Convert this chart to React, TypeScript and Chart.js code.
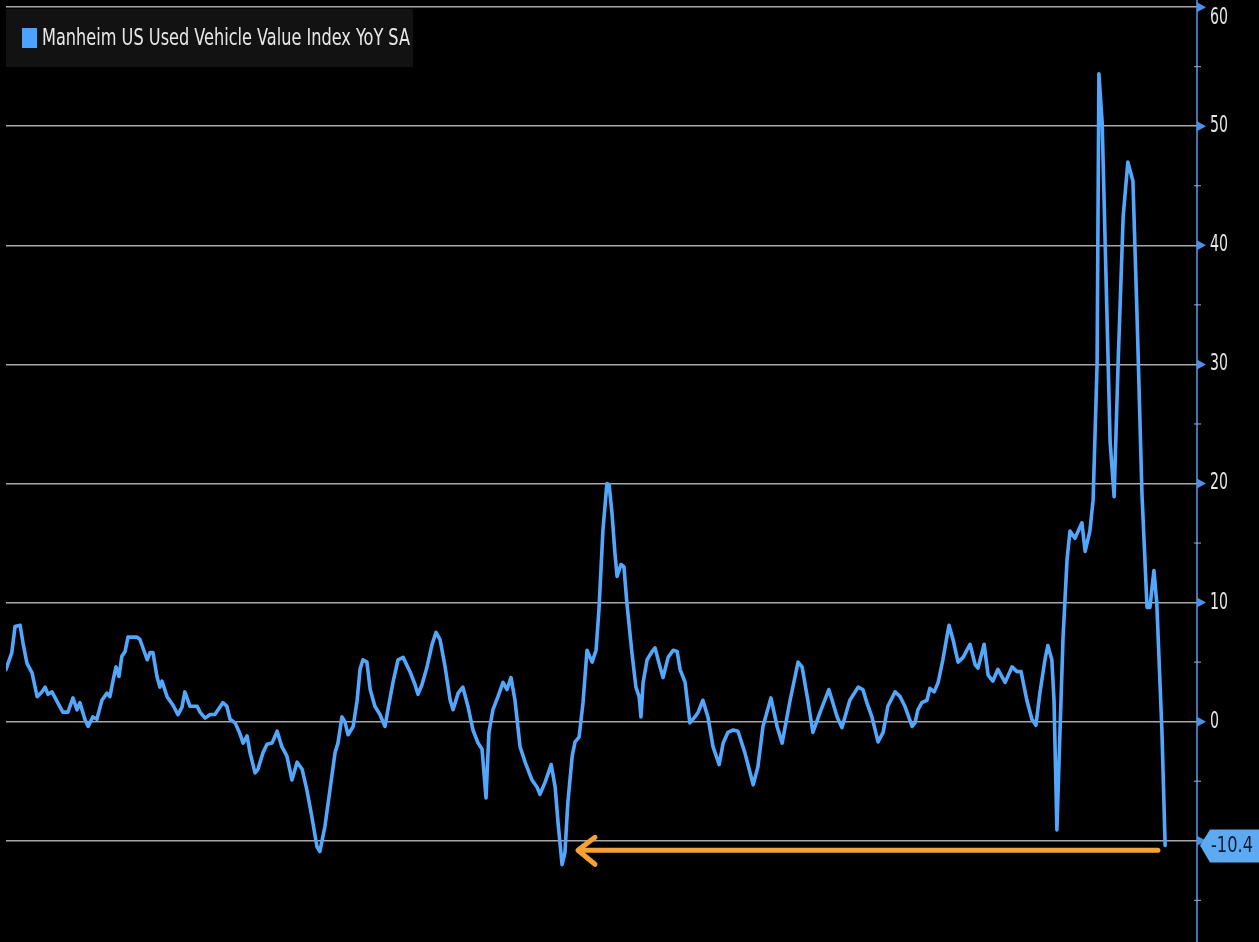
import React, { useEffect, useRef } from "react";
import { Chart, registerables } from "chart.js";

Chart.register(...registerables);

const SERIES_LABEL = "Manheim US Used Vehicle Value Index YoY SA";

// month index since series start (fractional where read between months)
const months = [
  0, 1.6, 2.5, 3.9, 4.7, 5.8, 7.2, 8.6, 9.9, 10.8, 11.6, 12.7, 14.1, 15.7, 17.1, 18.5, 19.6, 20.4,
  21.8, 22.7, 24.0, 25.1, 26.5, 27.9, 28.7, 29.6, 30.4, 31.2, 32.0, 32.9, 33.7, 36.2, 37.0, 39.0,
  39.8, 40.6, 41.7, 42.5, 43.1, 44.5, 46.1, 47.5, 48.6, 49.4, 50.8, 52.8, 53.6, 55.0, 56.4, 57.7,
  59.9, 61.0, 61.9, 63.3, 64.6, 65.5, 66.6, 67.4, 68.8, 69.6, 71.0, 72.1, 73.5, 74.9, 76.2, 77.6,
  79.0, 80.4, 81.8, 83.1, 84.5, 85.9, 86.7, 88.1, 89.5, 90.9, 91.7, 92.8, 93.6, 94.5, 95.9, 97.0,
  97.8, 98.6, 99.7, 100.6, 101.9, 103.3, 104.7, 105.5, 106.9, 108.3, 109.7, 111.6, 113.0, 113.8,
  114.9, 116.3, 117.7, 118.8, 119.9, 121.3, 122.7, 123.5, 124.9, 126.2, 127.6, 129.0, 130.4, 131.5,
  132.6, 133.4, 134.5, 135.9, 137.3, 138.4, 139.5, 140.6, 142.0, 143.4, 145.3, 146.7, 147.5, 148.9,
  150.6, 151.7, 152.5, 153.6, 154.4, 155.2, 156.4, 157.2, 158.3, 159.4, 160.5, 161.9, 163.0, 163.8,
  164.9, 166.0, 166.6, 167.4, 168.2, 168.8, 169.9, 170.7, 171.5, 172.9, 174.0, 174.9, 175.4, 176.0,
  177.1, 178.5, 179.3, 180.4, 181.5, 182.9, 184.3, 185.4, 186.2, 187.6, 188.9, 190.3, 191.2, 192.5,
  193.9, 195.3, 197.0, 198.1, 199.4, 200.8, 202.2, 204.1, 206.4, 207.7, 209.1, 211.3, 213.0, 214.4,
  216.6, 218.8, 219.9, 221.5, 222.9, 224.9, 227.3, 229.6, 230.9, 233.1, 235.4, 236.7, 237.8, 239.2,
  240.9, 242.3, 243.6, 245.6, 247.0, 248.3, 250.3, 251.1, 251.9, 253.0, 254.4, 255.2, 256.4, 257.5,
  258.8, 259.9, 260.5, 261.6, 263.0, 264.4, 266.3, 267.7, 268.5, 270.2, 271.3, 272.6, 274.0, 276.0,
  277.9, 279.3, 280.4, 282.0, 283.4, 284.5, 285.6, 287.0, 287.8, 288.9, 289.5, 290.3, 290.9, 292.0,
  293.1, 293.9, 295.3, 297.2, 298.1, 299.4, 300.3, 301.4, 301.9, 302.8, 304.1, 305.0, 306.1, 307.2,
  308.6, 309.9, 311.3, 312.4, 313.8, 315.2, 316.0, 317.1, 317.9, 319.3, 320.2,
];

// YoY % change
const values = [
  4.4, 5.8, 8.0, 8.1, 6.6, 4.9, 4.1, 2.1, 2.5, 2.9, 2.3, 2.5, 1.7, 0.8, 0.8, 2.0, 1.0, 1.6,
  0.2, -0.4, 0.4, 0.2, 1.8, 2.4, 2.1, 3.5, 4.6, 3.8, 5.5, 5.9, 7.1, 7.1, 6.9, 5.2,
  5.8, 5.8, 3.8, 2.9, 3.4, 2.1, 1.4, 0.6, 1.2, 2.5, 1.3, 1.3, 0.8, 0.3, 0.6, 0.6,
  1.6, 1.3, 0.2, -0.1, -1.0, -1.8, -1.2, -2.6, -4.3, -4.0, -2.6, -1.9, -1.8, -0.8, -2.1, -2.9,
  -4.9, -3.4, -4.0, -5.7, -8.0, -10.5, -10.9, -8.8, -5.7, -2.6, -1.8, 0.4, 0.0, -1.1, -0.4, 1.8,
  4.4, 5.2, 5.0, 2.7, 1.3, 0.6, -0.4, 1.0, 3.3, 5.2, 5.4, 4.2, 3.1, 2.3,
  3.1, 4.6, 6.5, 7.5, 6.9, 4.6, 1.8, 1.0, 2.4, 2.9, 1.3, -0.7, -1.8, -2.3,
  -6.4, -0.9, 1.0, 2.1, 3.3, 2.7, 3.7, 1.8, -2.1, -3.4, -4.9, -5.5, -6.1, -5.1,
  -3.6, -5.5, -8.5, -12.0, -11.0, -6.8, -2.9, -1.7, -1.3, 1.6, 6.0, 5.0, 6.0, 9.4,
  16.1, 20.0, 19.9, 17.5, 14.2, 12.2, 13.2, 13.0, 10.0, 5.8, 2.9, 2.1, 0.4, 3.3,
  5.2, 5.9, 6.2, 4.9, 3.7, 5.4, 6.0, 5.9, 4.4, 3.3, -0.1, 0.4, 0.8, 1.8,
  0.4, -2.1, -3.6, -1.8, -0.9, -0.7, -0.8, -2.6, -5.3, -3.8, -0.4, 2.0, -0.4, -1.8,
  1.8, 5.0, 4.6, 1.8, -0.9, 0.8, 2.7, 0.4, -0.5, 1.8, 2.9, 2.7, 1.6, 0.4,
  -1.7, -0.9, 1.3, 2.5, 2.1, 1.3, -0.4, -0.1, 1.0, 1.6, 1.8, 2.8, 2.5, 3.3,
  5.2, 7.1, 8.1, 6.9, 5.0, 5.4, 6.5, 4.8, 4.5, 6.5, 3.9, 3.4, 4.4, 3.3,
  4.6, 4.2, 4.2, 1.8, 0.2, -0.3, 2.4, 5.2, 6.4, 5.2, 1.8, -9.1, -3.2, 7.1,
  13.6, 16.0, 15.4, 16.7, 14.3, 16.0, 18.6, 30.0, 54.4, 50.3, 34.5, 23.5, 18.9, 30.0,
  42.4, 47.0, 45.4, 34.5, 19.1, 9.6, 9.6, 12.7, 9.9, -0.7, -10.4,
];

const yTickValues = [-15, -10, -5, 0, 5, 10, 15, 20, 25, 30, 35, 40, 45, 50, 55, 60];
const yMin = -18.5;
const yMax = 60.6;
const xMin = 0;
const xMax = 329;
const lastValueLabel = "-10.4";

// annotation arrow (data units)
const arrowStartMonth = 318.2;
const arrowEndMonth = 158.0;
const arrowLevel = -10.8;

const FONT = "'Liberation Sans Narrow', 'DejaVu Sans Condensed', 'Roboto Condensed', 'Liberation Sans', sans-serif";
const LINE_BLUE = "#52a6fc";

export default function App() {
  const ref = useRef<HTMLCanvasElement>(null);

  useEffect(() => {
    if (!ref.current) return;
    const data = months.map((m, i) => ({ x: m, y: values[i] }));

    const bgPlugin = {
      id: "bg",
      beforeDraw(chart: any) {
        const ctx = chart.ctx;
        ctx.save();
        ctx.fillStyle = "#000";
        ctx.fillRect(0, 0, chart.width, chart.height);
        ctx.restore();
      },
    };

    const drawFitted = (ctx: any, text: string, x: number, y: number, size: number, targetW: number) => {
      ctx.font = `${size}px ${FONT}`;
      const w = ctx.measureText(text).width;
      ctx.save();
      ctx.translate(x, y);
      ctx.scale(targetW / w, 1);
      ctx.fillText(text, 0, 0);
      ctx.restore();
    };

    const overlay = {
      id: "overlay",
      afterDatasetsDraw(chart: any) {
        const ctx = chart.ctx;
        const ys = chart.scales.y;
        const xs = chart.scales.x;
        const axisX = chart.chartArea.right;
        ctx.save();

        // axis line
        ctx.strokeStyle = "#5b9be6";
        ctx.lineWidth = 1.5;
        ctx.beginPath();
        ctx.moveTo(axisX, 0);
        ctx.lineTo(axisX, chart.height);
        ctx.stroke();

        // tick markers and labels
        for (const v of yTickValues) {
          const py = ys.getPixelForValue(v);
          if (v % 10 === 0) {
            ctx.fillStyle = "#4f8fe8";
            ctx.beginPath();
            ctx.moveTo(axisX, py - 5);
            ctx.lineTo(axisX + 9, py);
            ctx.lineTo(axisX, py + 5);
            ctx.closePath();
            ctx.fill();
            ctx.fillStyle = "#e6e6e6";
            ctx.textBaseline = "middle";
            ctx.textAlign = "left";
            const ly = Math.max(py, 18);
            const lbl = String(v);
            drawFitted(ctx, lbl, axisX + 13, ly, 23, lbl.length * 9 + (v < 0 ? -2 : 0));
          } else {
            ctx.strokeStyle = "#8fb4e8";
            ctx.lineWidth = 1;
            ctx.beginPath();
            ctx.moveTo(axisX - 3, py);
            ctx.lineTo(axisX + 4, py);
            ctx.stroke();
          }
        }

        // legend box
        ctx.fillStyle = "#121212";
        ctx.fillRect(6, 9, 407, 58);
        ctx.fillStyle = "#4aa3ff";
        ctx.fillRect(22, 28, 15, 20);
        ctx.fillStyle = "#e8e8e8";
        ctx.textBaseline = "middle";
        ctx.textAlign = "left";
        drawFitted(ctx, SERIES_LABEL, 42, 39, 23, 368);

        // orange arrow
        const ax1 = xs.getPixelForValue(arrowStartMonth);
        const ax2 = xs.getPixelForValue(arrowEndMonth);
        const ay = ys.getPixelForValue(arrowLevel);
        ctx.strokeStyle = "#f5a233";
        ctx.lineWidth = 5;
        ctx.lineCap = "round";
        ctx.lineJoin = "round";
        ctx.beginPath();
        ctx.moveTo(ax1, ay);
        ctx.lineTo(ax2 + 2, ay);
        ctx.stroke();
        ctx.beginPath();
        ctx.moveTo(ax2 + 17, ay - 13);
        ctx.lineTo(ax2, ay);
        ctx.lineTo(ax2 + 17, ay + 14);
        ctx.stroke();

        // last value tag
        const lv = values[values.length - 1];
        const ty = ys.getPixelForValue(lv);
        const tx = axisX + 3;
        ctx.fillStyle = "#5eaaf2";
        ctx.beginPath();
        ctx.moveTo(tx, ty);
        ctx.lineTo(tx + 10, ty - 16);
        ctx.lineTo(chart.width, ty - 16);
        ctx.lineTo(chart.width, ty + 17);
        ctx.lineTo(tx + 10, ty + 17);
        ctx.closePath();
        ctx.fill();
        ctx.fillStyle = "#0b1a33";
        ctx.textBaseline = "middle";
        drawFitted(ctx, lastValueLabel, tx + 11, ty + 1, 22, 42);

        ctx.restore();
      },
    };

    const chart = new Chart(ref.current, {
      type: "line",
      data: {
        datasets: [
          {
            label: SERIES_LABEL,
            data,
            borderColor: LINE_BLUE,
            borderWidth: 3.6,
            pointRadius: 0,
            tension: 0,
            fill: false,
            borderJoinStyle: "round",
            borderCapStyle: "round",
          },
        ],
      },
      options: {
        animation: false,
        responsive: true,
        maintainAspectRatio: false,
        layout: { padding: { left: 6, right: 0, top: 0, bottom: 0 } },
        plugins: { legend: { display: false }, tooltip: { enabled: false } },
        scales: {
          x: {
            type: "linear",
            min: xMin,
            max: xMax,
            display: false,
          },
          y: {
            position: "right",
            min: yMin,
            max: yMax,
            afterBuildTicks: (scale: any) => {
              scale.ticks = yTickValues.map((v) => ({ value: v }));
            },
            afterFit: (scale: any) => {
              scale.width = 62;
            },
            ticks: { display: false },
            border: { display: false },
            grid: {
              drawTicks: false,
              lineWidth: 1.5,
              color: (c: any) => (c.tick && c.tick.value % 10 === 0 ? "#a8a8a8" : "rgba(0,0,0,0)"),
            },
          },
        },
      } as any,
      plugins: [bgPlugin, overlay],
    });
    return () => chart.destroy();
  }, []);

  return (
    <div style={{ position: "fixed", left: 0, top: 0, width: 1259, height: 942, background: "#000" }}>
      <canvas ref={ref} />
    </div>
  );
}
